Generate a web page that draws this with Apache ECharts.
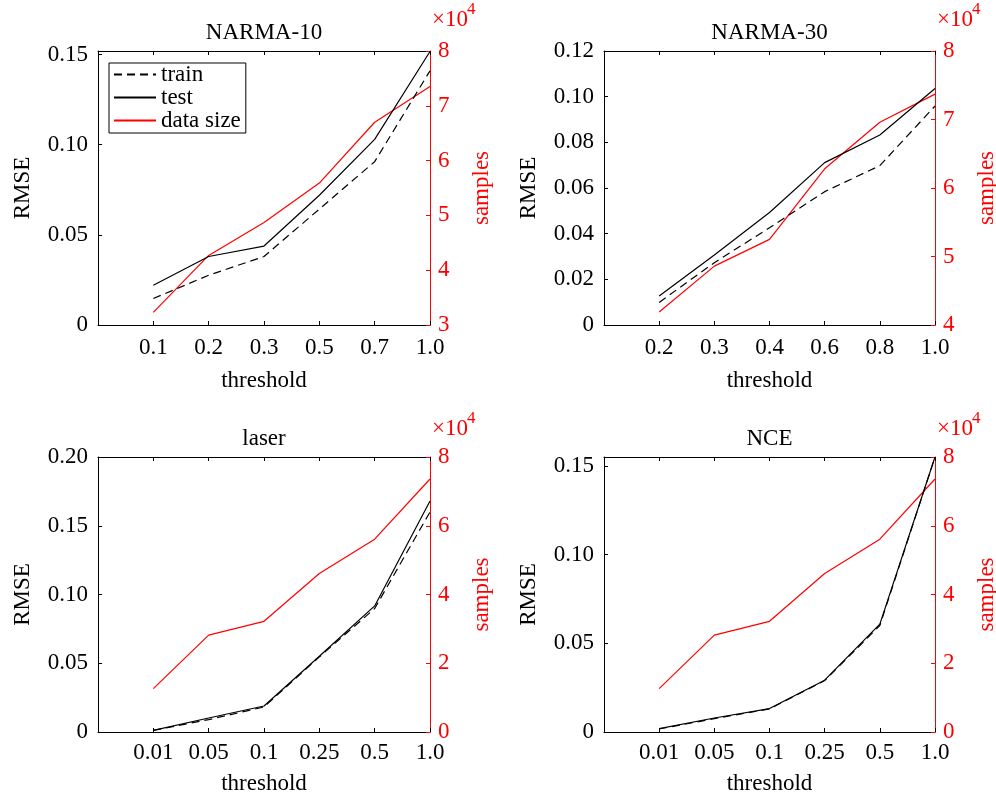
<!DOCTYPE html>
<html>
<head>
<meta charset="utf-8">
<script src="https://cdn.jsdelivr.net/npm/echarts@6/dist/echarts.min.js"></script>
<style>
html,body{margin:0;padding:0;background:#fff;}
#chart{width:996px;height:795px;}
</style>
</head>
<body>
<div id="chart"></div>
<script>
// ---- data ----
const titles = ['NARMA-10', 'NARMA-30', 'laser', 'NCE'];
const labels10 = ['0.1', '0.2', '0.3', '0.5', '0.7', '1.0'];
const train10 = [0.0147, 0.0276, 0.0380, 0.0643, 0.0906, 0.1410];
const test10 = [0.0221, 0.0380, 0.0438, 0.0720, 0.1030, 0.1517];
const size10 = [32300, 42700, 48700, 55900, 67000, 73500];

const labels30 = ['0.2', '0.3', '0.4', '0.6', '0.8', '1.0'];
const train30 = [0.0099, 0.0273, 0.0426, 0.0584, 0.0698, 0.0959];
const test30 = [0.0127, 0.0307, 0.0493, 0.0711, 0.0832, 0.1036];
const size30 = [41900, 48600, 52500, 62800, 69600, 73700];

const labelsLaser = ['0.01', '0.05', '0.1', '0.25', '0.5', '1.0'];
const trainLaser = [0.0012, 0.0090, 0.0182, 0.0546, 0.0898, 0.1600];
const testLaser = [0.0012, 0.0102, 0.0189, 0.0551, 0.0917, 0.1680];
const sizeLaser = [12600, 28200, 32200, 46100, 56100, 73600];

const labelsNCE = ['0.01', '0.05', '0.1', '0.25', '0.5', '1.0'];
const trainNCE = [0.0017, 0.0075, 0.0130, 0.0290, 0.0600, 0.1550];
const testNCE = [0.0019, 0.0079, 0.0132, 0.0292, 0.0608, 0.1550];
const sizeNCE = [12600, 28200, 32200, 46100, 56100, 73600];

// axis ranges
const leftRanges = [[0, 0.152, 0.05], [0, 0.12, 0.02], [0, 0.2, 0.05], [0, 0.155, 0.05]];
const rightRanges = [[30000, 80000, 10000], [40000, 80000, 10000], [0, 80000, 20000], [0, 80000, 20000]];

// ---- build ----
const FONT = 'Liberation Serif';
const FS = 23;
const RED = '#ff0000';
const panels = [
  {labels: labels10, train: train10, test: test10, size: size10},
  {labels: labels30, train: train30, test: test30, size: size30},
  {labels: labelsLaser, train: trainLaser, test: testLaser, size: sizeLaser},
  {labels: labelsNCE, train: trainNCE, test: testNCE, size: sizeNCE}
];
const grids = [
  {left: 98, top: 51, width: 332, height: 274},
  {left: 604, top: 51, width: 331, height: 274},
  {left: 98, top: 457, width: 332, height: 275},
  {left: 604, top: 457, width: 331, height: 275}
];
const expOffset = [43, 43, 40, 40];
const xNameGap = [44, 44, 40, 40];
const xLabelMargin = [11, 11, 9, 9];

const xAxis = [], yAxis = [], series = [], graphic = [];
function onTick(v, step) {
  const r = v / step;
  return Math.abs(r - Math.round(r)) < 1e-6;
}
panels.forEach((p, i) => {
  const labelsArr = p.labels;
  xAxis.push({
    type: 'value', gridIndex: i, position: 'bottom', min: 0, max: labelsArr.length, interval: 1,
    name: 'threshold', nameLocation: 'middle', nameGap: xNameGap[i],
    nameTextStyle: {fontFamily: FONT, fontSize: FS, color: '#000'},
    axisLine: {show: true, onZero: false, lineStyle: {color: '#000', width: 1}},
    axisTick: {show: true, inside: true, length: 4, lineStyle: {color: '#000'}},
    axisLabel: {show: true, margin: xLabelMargin[i], fontFamily: FONT, fontSize: FS, color: '#000',
      formatter: v => (v >= 1 && v <= labelsArr.length) ? labelsArr[Math.round(v) - 1] : ''},
    splitLine: {show: false}
  });
  xAxis.push({
    type: 'value', gridIndex: i, position: 'top', min: 0, max: labelsArr.length, interval: 1,
    name: titles[i], nameLocation: 'middle', nameGap: 7,
    nameTextStyle: {fontFamily: FONT, fontSize: FS, color: '#000'},
    axisLine: {show: true, onZero: false, lineStyle: {color: '#000', width: 1}},
    axisTick: {show: true, inside: true, length: 4, lineStyle: {color: '#000'}},
    axisLabel: {show: false},
    splitLine: {show: false}
  });
  const L = leftRanges[i], R = rightRanges[i];
  yAxis.push({
    type: 'value', gridIndex: i, position: 'left', min: L[0], max: L[1], interval: L[2],
    name: 'RMSE', nameLocation: 'middle', nameGap: 64, nameRotate: 90,
    nameTextStyle: {fontFamily: FONT, fontSize: FS, color: '#000'},
    axisLine: {show: true, onZero: false, lineStyle: {color: '#000', width: 1}},
    axisTick: {show: true, inside: true, length: 4, lineStyle: {color: '#000'}},
    axisLabel: {show: true, margin: 10, fontFamily: FONT, fontSize: FS, color: '#000',
      formatter: v => !onTick(v, L[2]) ? '' : (v === 0 ? '0' : v.toFixed(2))},
    splitLine: {show: false}
  });
  yAxis.push({
    type: 'value', gridIndex: i, position: 'right', min: R[0], max: R[1], interval: R[2],
    name: 'samples', nameLocation: 'middle', nameGap: 40, nameRotate: 90,
    nameTextStyle: {fontFamily: FONT, fontSize: FS, color: RED},
    axisLine: {show: true, onZero: false, lineStyle: {color: RED, width: 1}},
    axisTick: {show: true, inside: true, length: 4, lineStyle: {color: RED}},
    axisLabel: {show: true, margin: 8, fontFamily: FONT, fontSize: FS, color: RED,
      formatter: v => String(Math.round(v / 1e4))},
    splitLine: {show: false}
  });
  const toPts = arr => arr.map((v, k) => [k + 1, v]);
  series.push({
    name: 'train', type: 'line', xAxisIndex: 2 * i, yAxisIndex: 2 * i, data: toPts(p.train),
    symbol: 'none', lineStyle: {color: '#000', width: 1.2, type: [8, 5]}, itemStyle: {color: '#000'}, z: 3
  });
  series.push({
    name: 'test', type: 'line', xAxisIndex: 2 * i, yAxisIndex: 2 * i, data: toPts(p.test),
    symbol: 'none', lineStyle: {color: '#000', width: 1.2, type: 'solid'}, itemStyle: {color: '#000'}, z: 3
  });
  series.push({
    name: 'data size', type: 'line', xAxisIndex: 2 * i, yAxisIndex: 2 * i + 1, data: toPts(p.size),
    symbol: 'none', lineStyle: {color: RED, width: 1.2, type: 'solid'}, itemStyle: {color: RED}, z: 2
  });
  const g = grids[i];
  const rx = g.left + g.width + 2;
  graphic.push({
    type: 'text', left: rx, top: g.top - expOffset[i],
    style: {text: '×10', fontFamily: FONT, fontSize: FS, fill: RED}
  });
  graphic.push({
    type: 'text', left: rx + 35, top: g.top - expOffset[i] - 7,
    style: {text: '4', fontFamily: FONT, fontSize: 17, fill: RED}
  });
});

const option = {
  animation: false,
  backgroundColor: '#fff',
  grid: grids.map(g => Object.assign({containLabel: false, outerBoundsMode: 'none', show: false}, g)),
  xAxis, yAxis, series, graphic,
  legend: {
    show: true, left: 109, top: 63, orient: 'vertical',
    data: ['train', 'test', 'data size'],
    itemWidth: 42, itemHeight: 14, itemGap: 0,
    padding: [0, 5, 1, 4],
    backgroundColor: '#fff',
    borderColor: '#000', borderWidth: 1, borderRadius: 0,
    selectedMode: false,
    itemStyle: {opacity: 0},
    textStyle: {fontFamily: FONT, fontSize: FS, color: '#000', lineHeight: 22}
  }
};
const chart = echarts.init(document.getElementById('chart'), null, {renderer: 'canvas'});
chart.setOption(option);
</script>
</body>
</html>
